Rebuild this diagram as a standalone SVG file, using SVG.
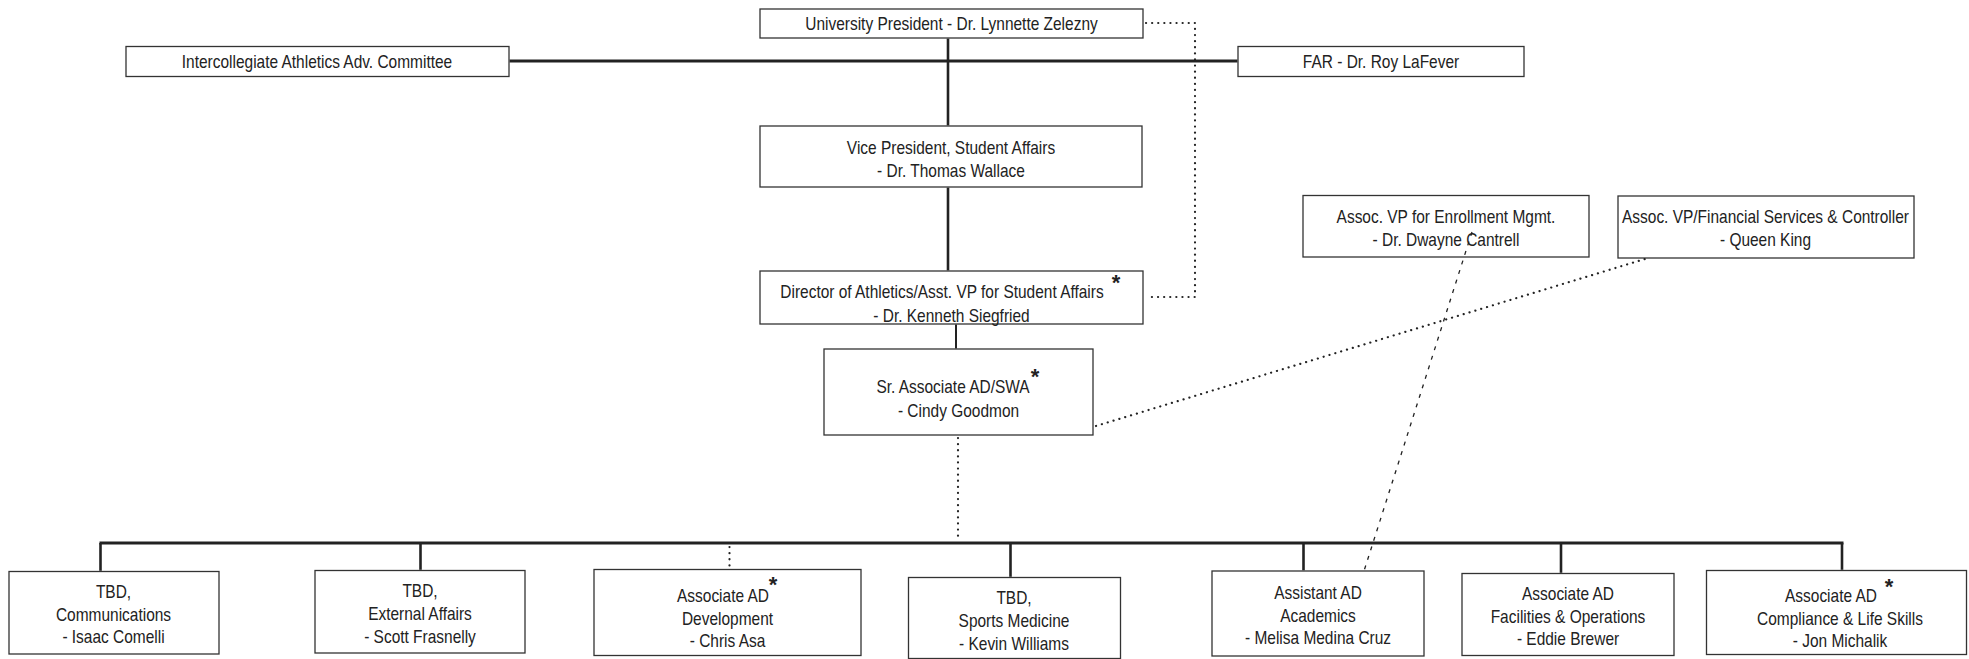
<svg xmlns="http://www.w3.org/2000/svg" width="1969" height="659" viewBox="0 0 1969 659">
<style>
.box{fill:#fff;stroke:#333;stroke-width:1.3}
text{font-family:"Liberation Sans",Arial,sans-serif;font-size:18px;fill:#222;text-anchor:middle}
.ast{font-size:22px;font-weight:bold}
.solid{stroke:#222;stroke-width:2.6;fill:none}
.thin{stroke:#222;stroke-width:2;fill:none}
.dot{stroke:#222;stroke-width:2.2;stroke-dasharray:0.1 6;stroke-linecap:round;fill:none}
.dash{stroke:#222;stroke-width:1.3;stroke-dasharray:4 6;fill:none}
</style>
<rect width="1969" height="659" fill="#fff"/>
<g id="president">
<rect class="box" x="760" y="9" width="383" height="29"/>
<text transform="translate(951.5,29.5) scale(0.86,1)">University President - Dr. Lynnette Zelezny</text>
</g>
<g id="committee">
<rect class="box" x="126" y="46.5" width="383" height="30"/>
<text transform="translate(317,67.5) scale(0.86,1)">Intercollegiate Athletics Adv. Committee</text>
</g>
<g id="far">
<rect class="box" x="1238" y="46.5" width="286" height="30"/>
<text transform="translate(1381,67.5) scale(0.86,1)">FAR - Dr. Roy LaFever</text>
</g>
<g id="vp">
<rect class="box" x="760" y="126" width="382" height="61"/>
<text transform="translate(951,154) scale(0.86,1)">Vice President, Student Affairs</text>
<text transform="translate(951,176.5) scale(0.86,1)">- Dr. Thomas Wallace</text>
</g>
<g id="director">
<rect class="box" x="760" y="271" width="383" height="53"/>
<text transform="translate(942,298) scale(0.86,1)">Director of Athletics/Asst. VP for Student Affairs</text>
<text class="ast" x="1116" y="290">*</text>
<text transform="translate(951.5,321.5) scale(0.86,1)">- Dr. Kenneth Siegfried</text>
</g>
<g id="sr-associate">
<rect class="box" x="824" y="349" width="269" height="86"/>
<text transform="translate(953,393) scale(0.86,1)">Sr. Associate AD/SWA</text>
<text class="ast" x="1035" y="384">*</text>
<text transform="translate(958.5,416.5) scale(0.86,1)">- Cindy Goodmon</text>
</g>
<g id="enrollment">
<rect class="box" x="1303" y="195.5" width="286" height="61.5"/>
<text transform="translate(1446,223) scale(0.86,1)">Assoc. VP for Enrollment Mgmt.</text>
<text transform="translate(1446,245.5) scale(0.86,1)">- Dr. Dwayne Cantrell</text>
</g>
<g id="financial">
<rect class="box" x="1618" y="196" width="296" height="62"/>
<text transform="translate(1765.5,223) scale(0.86,1)">Assoc. VP/Financial Services &amp; Controller</text>
<text transform="translate(1765.5,246) scale(0.86,1)">- Queen King</text>
</g>
<g id="communications">
<rect class="box" x="9" y="571.5" width="210" height="82.5"/>
<text transform="translate(113.5,598) scale(0.86,1)">TBD,</text>
<text transform="translate(113.5,621) scale(0.86,1)">Communications</text>
<text transform="translate(113.5,643) scale(0.86,1)">- Isaac Comelli</text>
</g>
<g id="external-affairs">
<rect class="box" x="315" y="570.5" width="210" height="82.5"/>
<text transform="translate(420,597) scale(0.86,1)">TBD,</text>
<text transform="translate(420,620) scale(0.86,1)">External Affairs</text>
<text transform="translate(420,642.5) scale(0.86,1)">- Scott Frasnelly</text>
</g>
<g id="development">
<rect class="box" x="594" y="569.5" width="267" height="86"/>
<text transform="translate(723,601.5) scale(0.86,1)">Associate AD</text>
<text class="ast" x="773" y="592">*</text>
<text transform="translate(727.5,625) scale(0.86,1)">Development</text>
<text transform="translate(727.5,647) scale(0.86,1)">- Chris Asa</text>
</g>
<g id="sports-medicine">
<rect class="box" x="908.5" y="577.5" width="212" height="81"/>
<text transform="translate(1014,603.5) scale(0.86,1)">TBD,</text>
<text transform="translate(1014,627) scale(0.86,1)">Sports Medicine</text>
<text transform="translate(1014,649.5) scale(0.86,1)">- Kevin Williams</text>
</g>
<g id="academics">
<rect class="box" x="1212" y="571" width="212" height="85"/>
<text transform="translate(1318,598.5) scale(0.86,1)">Assistant AD</text>
<text transform="translate(1318,621.5) scale(0.86,1)">Academics</text>
<text transform="translate(1318,644) scale(0.86,1)">- Melisa Medina Cruz</text>
</g>
<g id="facilities">
<rect class="box" x="1462" y="573.5" width="212" height="82"/>
<text transform="translate(1568,599.5) scale(0.86,1)">Associate AD</text>
<text transform="translate(1568,622.5) scale(0.86,1)">Facilities &amp; Operations</text>
<text transform="translate(1568,645) scale(0.86,1)">- Eddie Brewer</text>
</g>
<g id="compliance">
<rect class="box" x="1706.5" y="570.5" width="260" height="84"/>
<text transform="translate(1831,602) scale(0.86,1)">Associate AD</text>
<text class="ast" x="1889" y="594">*</text>
<text transform="translate(1840,624.5) scale(0.86,1)">Compliance &amp; Life Skills</text>
<text transform="translate(1840,647) scale(0.86,1)">- Jon Michalik</text>
</g>
<g id="connectors">
<line class="solid" x1="509.6" y1="61" x2="1237.4" y2="61" style="stroke-width:3"/>
<line class="solid" x1="948" y1="38.6" x2="948" y2="125.4"/>
<line class="solid" x1="948" y1="187.6" x2="948" y2="270.4"/>
<line class="thin" x1="956" y1="324.6" x2="956" y2="348.4"/>
<polyline class="dot" points="1146,23 1195,23 1195,297 1146,297"/>
<line class="dot" x1="958" y1="438" x2="958" y2="541"/>
<line class="dot" x1="1096" y1="426" x2="1645" y2="259"/>
<line class="dash" x1="1472" y1="232" x2="1364" y2="571"/>
<line class="solid" x1="99.5" y1="543" x2="1843.5" y2="543" style="stroke-width:3"/>
<line class="solid" x1="100.5" y1="543" x2="100.5" y2="570.8"/>
<line class="solid" x1="420.5" y1="543" x2="420.5" y2="569.8"/>
<line class="dot" x1="729.5" y1="547" x2="729.5" y2="569"/>
<line class="solid" x1="1010.5" y1="543" x2="1010.5" y2="576.8"/>
<line class="solid" x1="1303.5" y1="543" x2="1303.5" y2="570.3"/>
<line class="solid" x1="1561" y1="543" x2="1561" y2="572.8"/>
<line class="solid" x1="1842" y1="543" x2="1842" y2="569.8"/>
</g>
</svg>
